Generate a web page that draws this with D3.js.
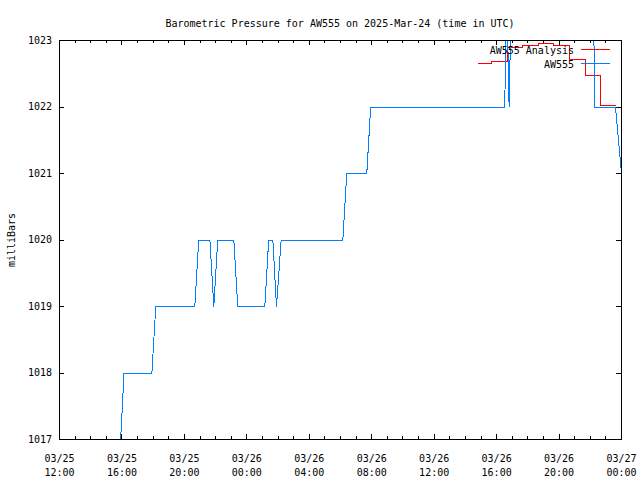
<!DOCTYPE html>
<html><head><meta charset="utf-8">
<script src="https://cdn.jsdelivr.net/npm/d3@7"></script>
<style>
body{margin:0;background:#fff}
svg{display:block}
text{font-family:"DejaVu Sans Mono",monospace;font-size:10px;fill:#000}
</style>
</head><body>
<svg id="c" width="640" height="480"></svg>
<script>
const title = "Barometric Pressure for AW555 on 2025-Mar-24 (time in UTC)";
const yLabel = "milliBars";
const yTicks = [1017, 1018, 1019, 1020, 1021, 1022, 1023];
const xTickTimes = ["2025-03-25T12:00Z","2025-03-25T16:00Z","2025-03-25T20:00Z","2025-03-26T00:00Z","2025-03-26T04:00Z","2025-03-26T08:00Z","2025-03-26T12:00Z","2025-03-26T16:00Z","2025-03-26T20:00Z","2025-03-27T00:00Z"];
const seriesNames = ["AW555 Analysis", "AW555"];

// AW555 observations
const obsTimes = ["2025-03-25T12:00Z","2025-03-25T15:55Z","2025-03-25T16:08Z","2025-03-25T17:55Z","2025-03-25T18:10Z","2025-03-25T20:40Z","2025-03-25T20:55Z","2025-03-25T21:38Z","2025-03-25T21:53Z","2025-03-25T22:08Z","2025-03-25T23:10Z","2025-03-25T23:25Z","2025-03-26T01:09Z","2025-03-26T01:24Z","2025-03-26T01:40Z","2025-03-26T01:54Z","2025-03-26T02:12Z","2025-03-26T06:09Z","2025-03-26T06:24Z","2025-03-26T07:41Z","2025-03-26T07:56Z","2025-03-26T16:31Z","2025-03-26T16:36Z","2025-03-26T16:43Z","2025-03-26T16:48Z","2025-03-26T16:53Z","2025-03-26T22:14Z","2025-03-26T22:18Z","2025-03-26T23:37Z","2025-03-27T00:00Z"];
const obsValues = [1017,1017,1018,1018,1019,1019,1020,1020,1019,1020,1020,1019,1019,1020,1020,1019,1020,1020,1021,1021,1022,1022,1023,1023,1022,1023,1023,1022,1022,1021];

// AW555 Analysis
const anaTimes = ["2025-03-26T14:50Z","2025-03-26T15:40Z","2025-03-26T16:40Z","2025-03-26T17:40Z","2025-03-26T18:40Z","2025-03-26T19:40Z","2025-03-26T20:40Z","2025-03-26T21:40Z","2025-03-26T22:40Z","2025-03-26T23:40Z"];
const anaValues = [1022.65,1022.69,1022.89,1022.93,1022.95,1022.93,1022.71,1022.47,1022.02,1022.02];

const colors = {ana: "#ff0000", obs: "#0080ff"};

const svg = d3.select("#c");
const L = 59, R = 621, T = 40, B = 439;
const x = d3.scaleUtc().domain([new Date(xTickTimes[0]), new Date(xTickTimes[xTickTimes.length-1])]).range([L, R]);
const y = d3.scaleLinear().domain([1017, 1023]).range([B, T]);

// clip
svg.append("clipPath").attr("id","clip").append("rect")
  .attr("x", L).attr("y", T).attr("width", R-L+1).attr("height", B-T+1);

// title
svg.append("text").attr("x", 340).attr("y", 27).attr("text-anchor","middle").text(title);
// y label
svg.append("text").attr("transform","translate(15,240) rotate(-90)").attr("text-anchor","middle").text(yLabel);

const tickStyle = g => { g.select(".domain").remove(); g.selectAll("line").attr("stroke","#000").attr("shape-rendering","crispEdges"); g.selectAll("text").style("font-family",'"DejaVu Sans Mono",monospace').style("font-size","10px").attr("fill","#000"); };

// minor x ticks bottom/top
svg.append("g").attr("transform",`translate(0,${B})`)
  .call(d3.axisBottom(x).ticks(d3.utcHour.every(1)).tickSize(-3).tickFormat(""))
  .call(tickStyle);
svg.append("g").attr("transform",`translate(0,${T})`)
  .call(d3.axisTop(x).ticks(d3.utcHour.every(1)).tickSize(-3).tickFormat(""))
  .call(tickStyle);

// major x ticks
const xMajor = xTickTimes.map(s => new Date(s));
const fmt1 = d3.utcFormat("%m/%d"), fmt2 = d3.utcFormat("%H:%M");
const gx = svg.append("g").attr("transform",`translate(0,${B})`)
  .call(d3.axisBottom(x).tickValues(xMajor).tickSize(-5).tickFormat(""))
  .call(tickStyle);
gx.selectAll(".tick").each(function(d){
  const t = d3.select(this).append("text").attr("text-anchor","middle").attr("fill","#000");
  t.append("tspan").attr("x",0).attr("y",23).text(fmt1(d));
  t.append("tspan").attr("x",0).attr("y",37).text(fmt2(d));
});
svg.append("g").attr("transform",`translate(0,${T})`)
  .call(d3.axisTop(x).tickValues(xMajor).tickSize(-5).tickFormat(""))
  .call(tickStyle);

// y ticks
svg.append("g").attr("transform",`translate(${L},0)`)
  .call(d3.axisLeft(y).tickValues(yTicks).tickSize(-5).tickPadding(7).tickFormat(d3.format("d")))
  .call(tickStyle);
svg.append("g").attr("transform",`translate(${R},0)`)
  .call(d3.axisRight(y).tickValues(yTicks).tickSize(-5).tickFormat(""))
  .call(tickStyle);

// data
const plot = svg.append("g").attr("clip-path","url(#clip)").attr("transform","translate(0.5,0.5)");
const anaData = anaTimes.map((t,i)=>({t:new Date(t), v:anaValues[i]}));
const obsData = obsTimes.map((t,i)=>({t:new Date(t), v:obsValues[i]}));
plot.append("path").datum(anaData)
  .attr("d", d3.line().x(d=>x(d.t)).y(d=>y(d.v)).curve(d3.curveStepAfter))
  .attr("fill","none").attr("stroke",colors.ana).attr("stroke-width",1).attr("shape-rendering","crispEdges");
plot.append("path").datum(obsData)
  .attr("d", d3.line().x(d=>x(d.t)).y(d=>y(d.v)))
  .attr("fill","none").attr("stroke",colors.obs).attr("stroke-width",1).attr("shape-rendering","crispEdges");

// border on top
svg.append("rect").attr("x", L+0.5).attr("y", T+0.5).attr("width", R-L).attr("height", B-T)
  .attr("fill","none").attr("stroke","#000").attr("shape-rendering","crispEdges");

// legend
const leg = [{name:seriesNames[0], c:colors.ana, y:49},{name:seriesNames[1], c:colors.obs, y:63}];
leg.forEach(l=>{
  svg.append("text").attr("x",574).attr("y",l.y+4.5).attr("text-anchor","end").text(l.name);
  svg.append("line").attr("x1",581).attr("x2",610).attr("y1",l.y+0.5).attr("y2",l.y+0.5)
    .attr("stroke",l.c).attr("shape-rendering","crispEdges");
});
</script>
</body></html>
